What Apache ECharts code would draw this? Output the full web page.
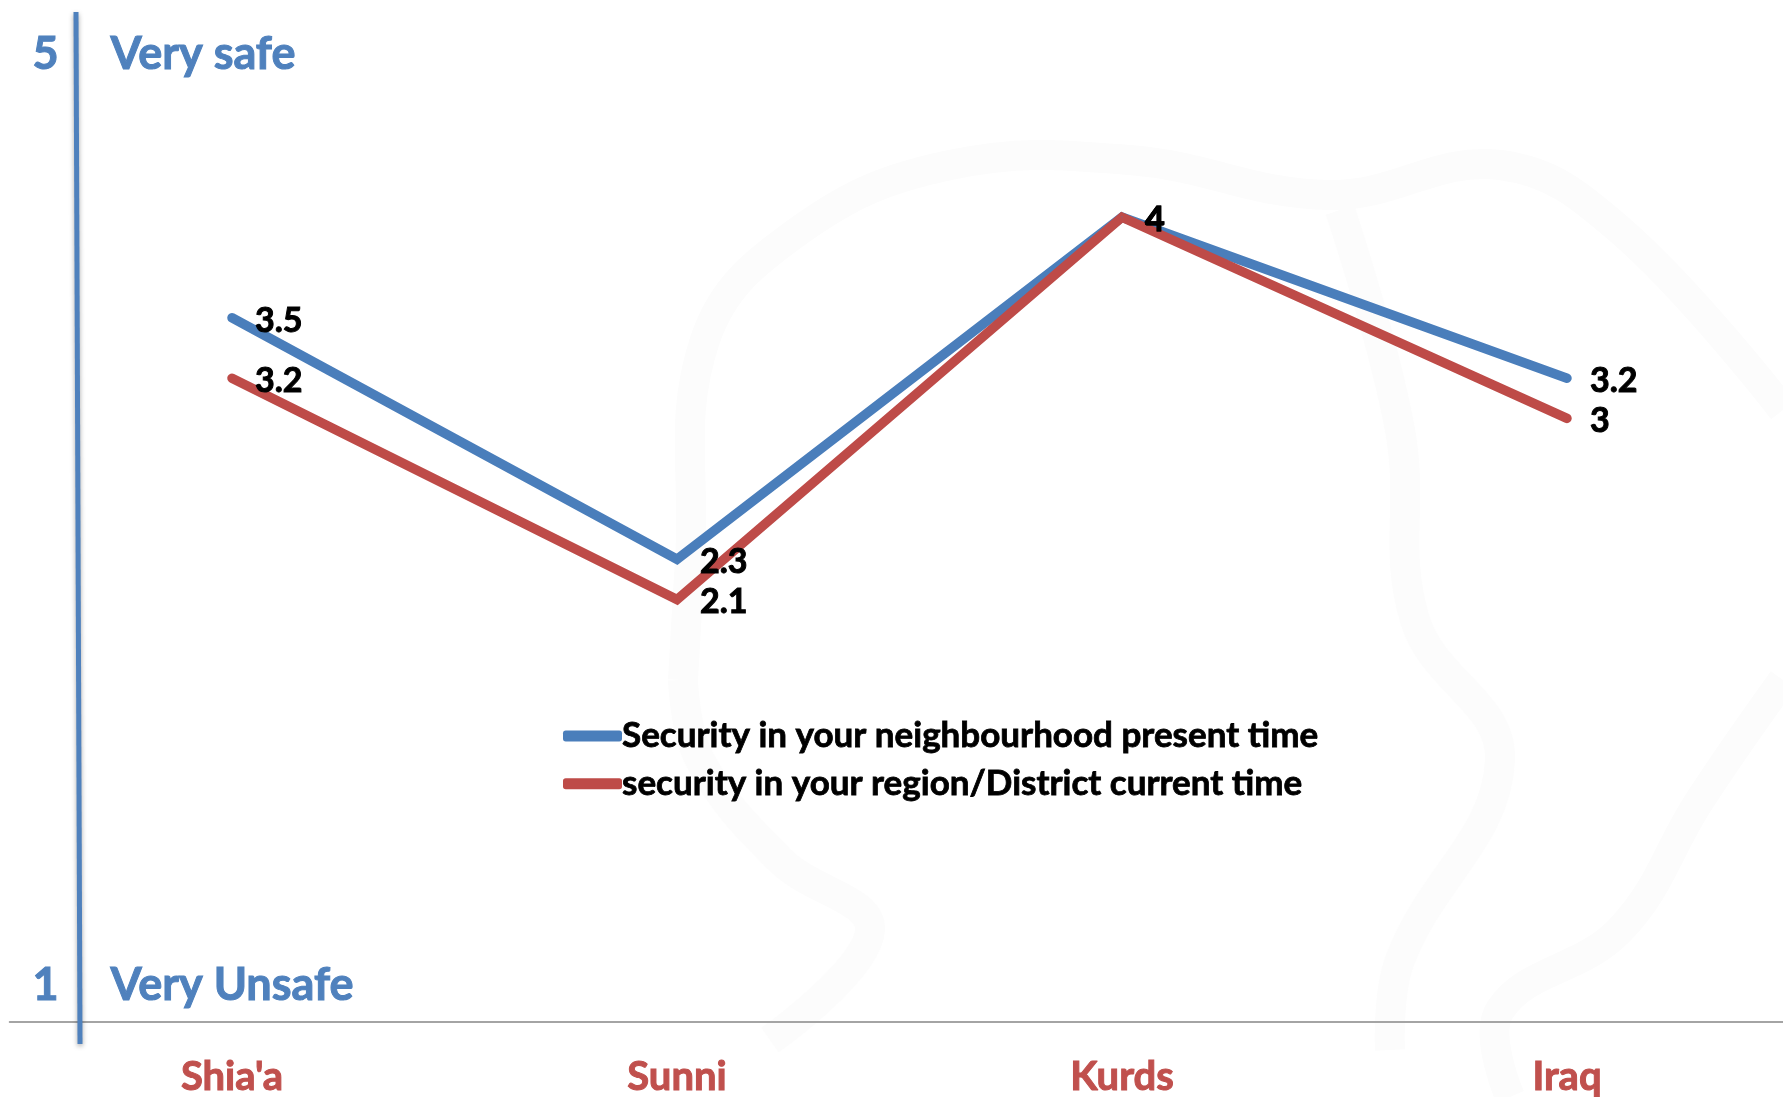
<!DOCTYPE html>
<html><head><meta charset="utf-8">
<script src="https://cdn.jsdelivr.net/npm/echarts@6/dist/echarts.min.js"></script>
<style>html,body{margin:0;padding:0;background:#fff}#c{width:1783px;height:1097px}</style>
</head><body><div id="c"></div>
<script>
const categories = ["Shia'a", "Sunni", "Kurds", "Iraq"];
const neighbourhood = [3.5, 2.3, 4, 3.2];
const region = [3.2, 2.1, 4, 3];
const seriesNames = ["Security in your neighbourhood present time", "security in your region/District current time"];
const BLUE = '#4A7EBB', RED = '#BE4B48';
const FONT = 'Lato';
const chart = echarts.init(document.getElementById('c'));
function sideText(x, y, t) {
  return {type:'text', left:x, top:y, z:5, style:{text:t, fill:'#4F81BD', stroke:'#4F81BD', lineWidth:1, font:'bold 45px ' + FONT}};
}
function mk(name, data, color) {
  return {name, type:'line', data, symbol:'circle', symbolSize:2, showSymbol:true, showAllSymbol:true, silent:true,
    lineStyle:{color, width:9.5, cap:'round', join:'miter'}, itemStyle:{color},
    label:{show:true, position:'right', distance:22, offset:[0,3], color:'#000', textBorderColor:'#000', textBorderWidth:1, fontFamily:FONT, fontWeight:'bold', fontSize:34}};
}
const water = [
  [[683,680],[690,560],[705,340],[800,230],[950,165],[1130,160],[1330,195],[1500,165],[1620,230],[1783,410]],
  [[683,680],[700,760],[780,860],[870,930],[770,1040]],
  [[1340,210],[1400,430],[1415,620],[1500,760],[1400,960],[1390,1050]],
  [[1783,680],[1700,800],[1620,930],[1500,1010],[1510,1097]]
];
chart.setOption({
  animation:false,
  backgroundColor:'#fff',
  grid:{left:9.5, width:1780, top:16, height:1006, outerBoundsMode:'none'},
  legend:{orient:'vertical', left:558, top:713, itemWidth:59, itemHeight:11, itemGap:12, icon:'roundRect',
    data:seriesNames, selectedMode:false, textStyle:{color:'#000', textBorderColor:'#000', textBorderWidth:0.8, fontFamily:FONT, fontWeight:'bold', fontSize:35, padding:[0,0,0,-5]}},
  xAxis:{type:'category', data:categories, boundaryGap:true,
    axisTick:{show:false}, axisLine:{lineStyle:{color:'#868686', width:1.5}},
    axisLabel:{color:'#C0504D', textBorderColor:'#C0504D', textBorderWidth:1, fontFamily:FONT, fontWeight:'bold', fontSize:40, margin:35}},
  yAxis:{type:'value', min:0, max:5, interval:1, show:false, splitLine:{show:false}},
  series:[mk(seriesNames[0], neighbourhood, BLUE), mk(seriesNames[1], region, RED)],
  graphic:[
    ...water.map(w=>({type:'polyline', z:-1, shape:{points:w, smooth:0.4}, style:{stroke:'#FCFCFC', lineWidth:30, fill:null}})),
    {type:'line', z:4, shape:{x1:76,y1:12,x2:80,y2:1044}, style:{stroke:'#4F81BD', lineWidth:5, shadowBlur:5, shadowColor:'rgba(0,0,0,0.35)', shadowOffsetY:2}},
    sideText(32, 31, '5'), sideText(110, 31, 'Very safe'),
    sideText(32, 962, '1'), sideText(110, 962, 'Very Unsafe')
  ]
});
</script></body></html>
